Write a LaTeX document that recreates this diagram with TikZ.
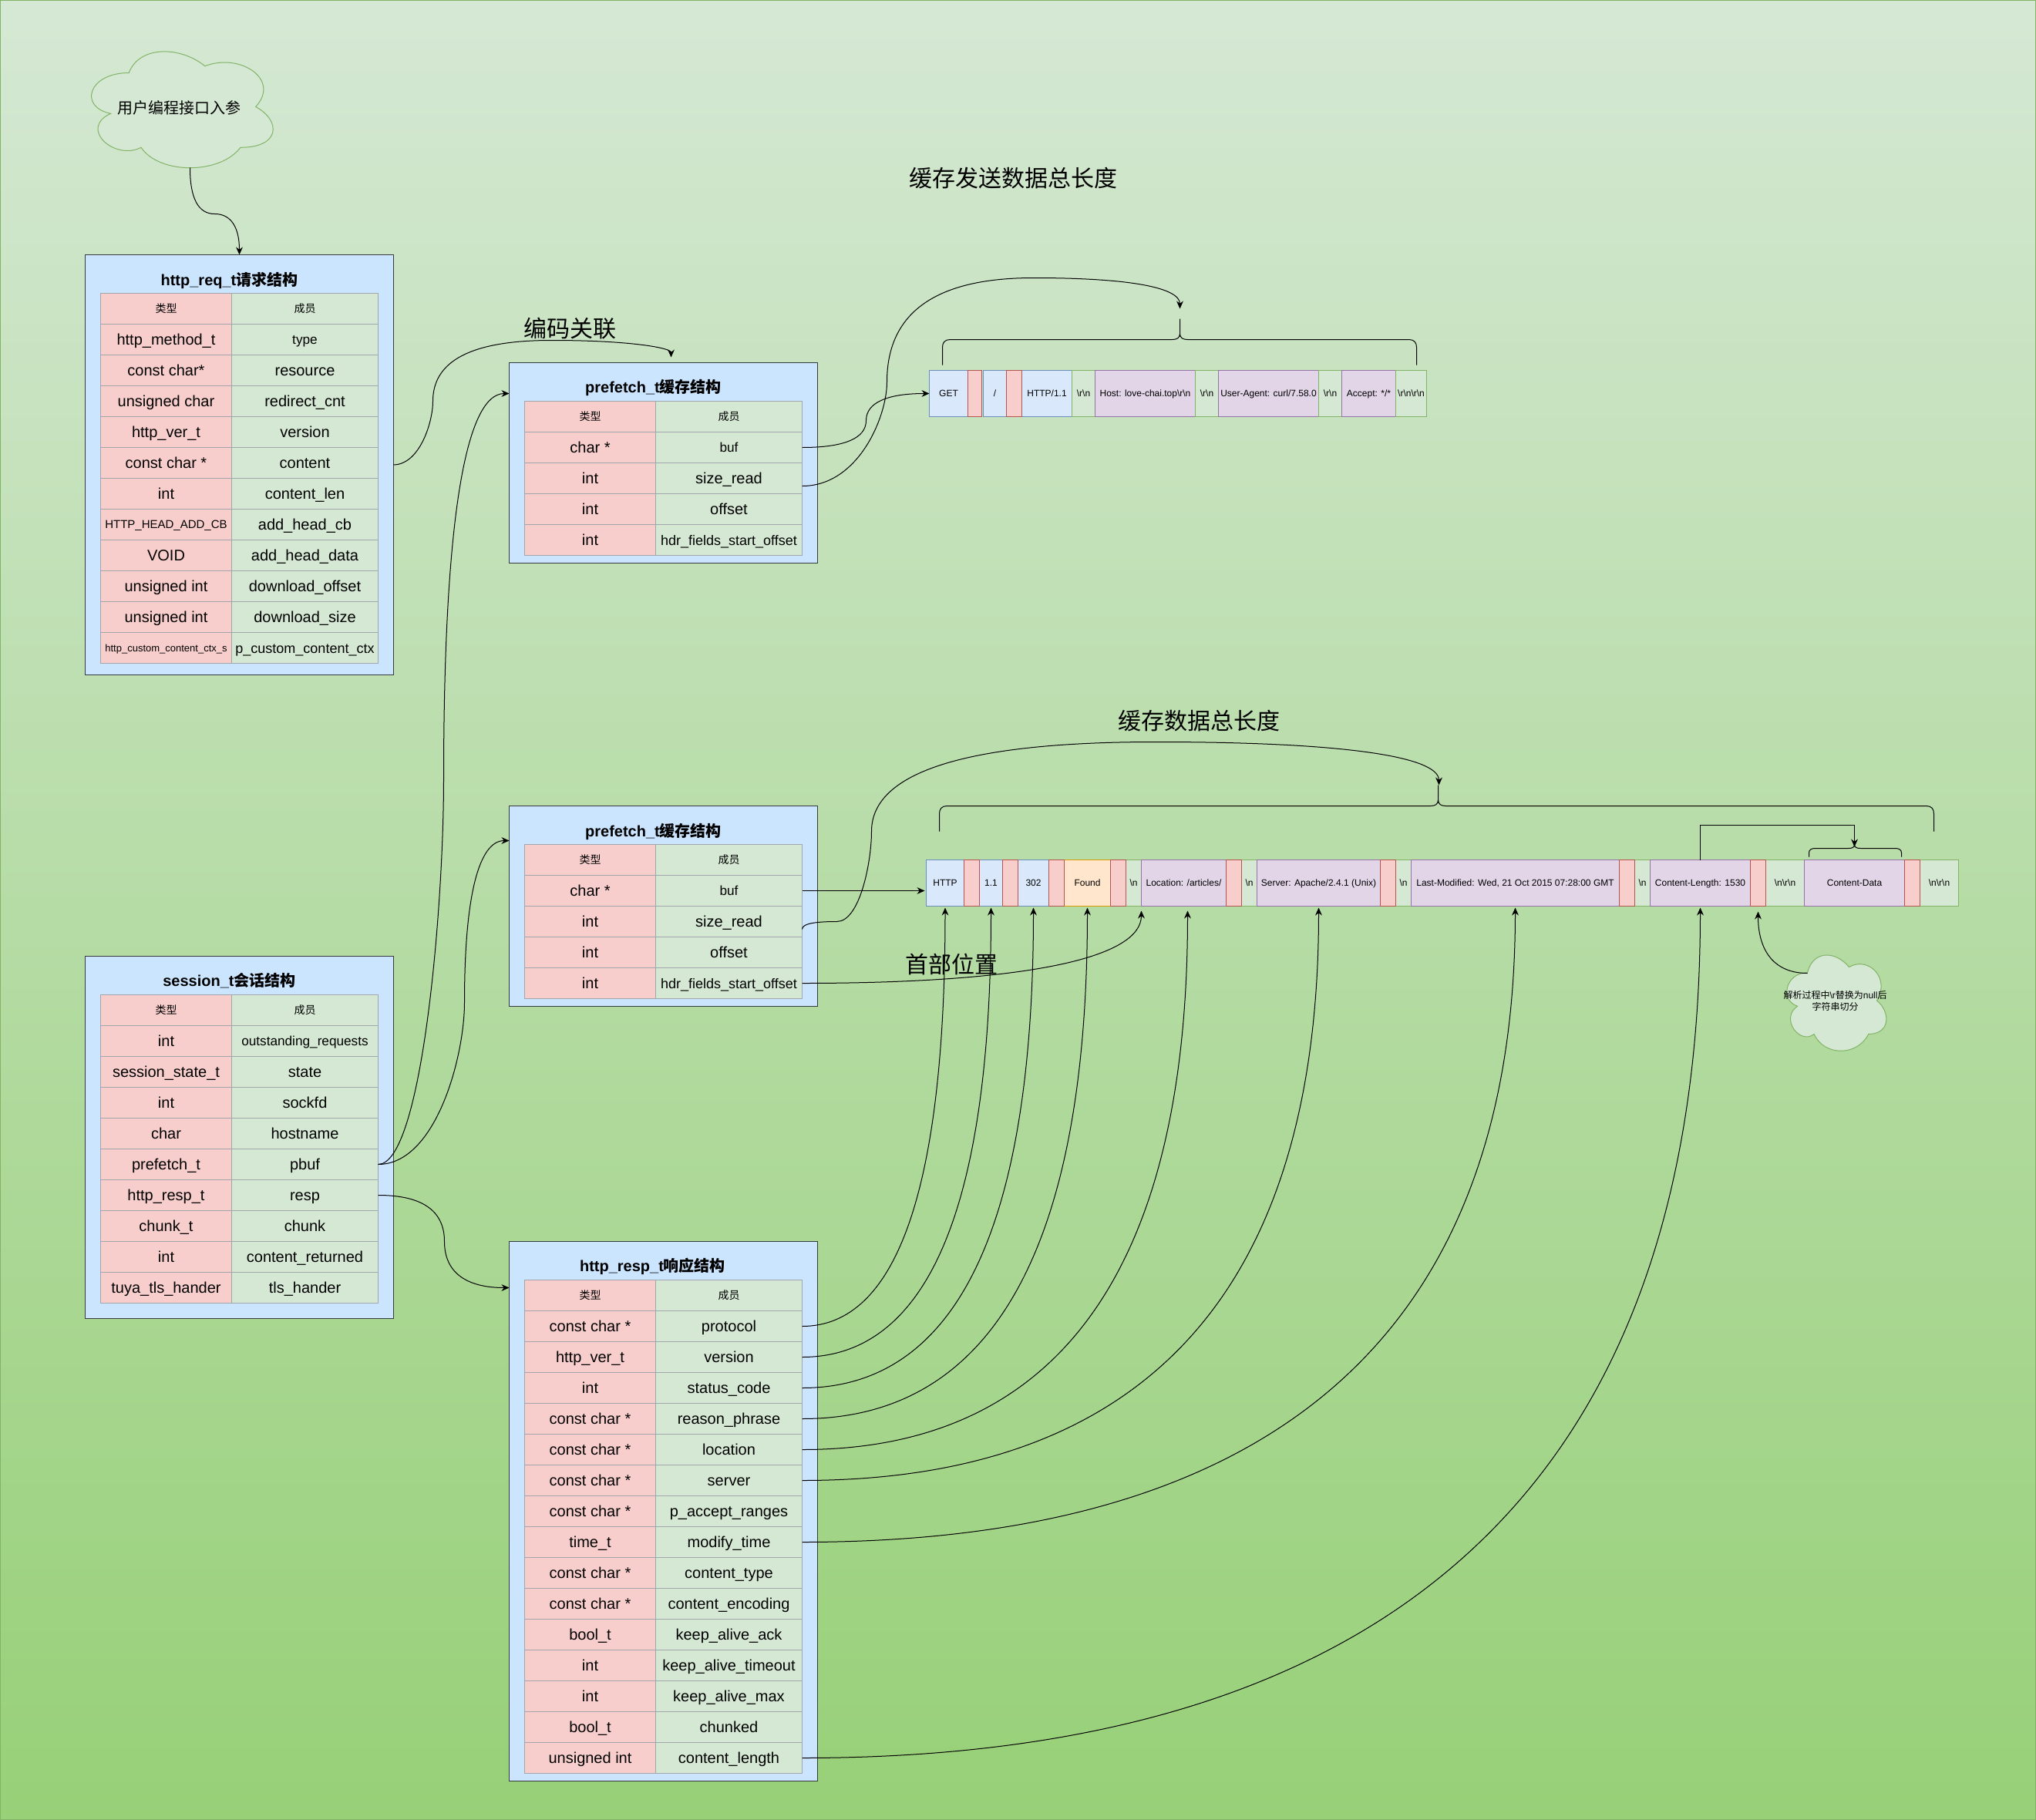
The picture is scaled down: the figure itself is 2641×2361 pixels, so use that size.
\documentclass[tikz,border=0pt]{standalone}
\usepackage{fontspec}
\setmainfont{Liberation Sans}
\newfontfamily\cjk{Noto Sans CJK SC}
\usetikzlibrary{arrows.meta, calc}
\definecolor{bgtop}{HTML}{D5E8D4}
\definecolor{bgbottom}{HTML}{97D077}
\definecolor{bgline}{HTML}{82B366}
\definecolor{panelfill}{HTML}{CCE5FF}
\definecolor{panelline}{HTML}{36393D}
\definecolor{cellline}{HTML}{A0A6AC}
\definecolor{redfill}{HTML}{F8CECC}
\definecolor{redline}{HTML}{B85450}
\definecolor{greenfill}{HTML}{D5E8D4}
\definecolor{greenline}{HTML}{82B366}
\definecolor{bluefill}{HTML}{DAE8FC}
\definecolor{blueline}{HTML}{6C8EBF}
\definecolor{purplefill}{HTML}{E1D5E7}
\definecolor{purpleline}{HTML}{9673A6}
\definecolor{orangefill}{HTML}{FFE6CC}
\definecolor{orangeline}{HTML}{D79B00}

\begin{document}
\begin{tikzpicture}[
        x=0.5pt, y=-0.5pt,
        every node/.style={inner sep=0pt, outer sep=0pt, align=center},
        panelbox/.style={
          rectangle, fill=panelfill, draw=panelline,
          line width=0.5pt, minimum width=200pt},
        paneltitle/.style={
          font=\fontsize{10}{12}\selectfont\bfseries, text height=7.6pt, text depth=0pt},
        typecell/.style={
          rectangle, fill=redfill, draw=cellline,
          line width=0.5pt, minimum width=85pt, minimum height=20pt,
          font=\fontsize{10}{12}\selectfont, text height=7.2pt, text depth=0pt},
        membercell/.style={
          rectangle, fill=greenfill, draw=cellline,
          line width=0.5pt, minimum width=95pt, minimum height=20pt,
          font=\fontsize{10}{12}\selectfont, text height=7.2pt, text depth=0pt},
        headtext/.style={
          font=\fontsize{7}{8}\selectfont\cjk, text height=5.3pt},
        ninetext/.style={font=\fontsize{9}{11}\selectfont, text height=6.5pt},
        eighttext/.style={font=\fontsize{8.6}{10}\selectfont, text height=6.2pt},
        sevenhalf/.style={font=\fontsize{7.5}{9}\selectfont, text height=5.4pt},
        sixhalf/.style={font=\fontsize{6.5}{8}\selectfont, text height=4.7pt},
        stripcell/.style={
          rectangle, line width=0.5pt, minimum height=30pt,
          font=\fontsize{6}{7}\selectfont, text height=4.4pt, text depth=0pt},
        stripblue/.style={stripcell, fill=bluefill, draw=blueline},
        stripred/.style={stripcell, fill=redfill, draw=redline},
        stripgreen/.style={stripcell, fill=greenfill, draw=greenline},
        strippurple/.style={stripcell, fill=purplefill, draw=purpleline},
        striporange/.style={stripcell, fill=orangefill, draw=orangeline},
        bigcaption/.style={font=\fontsize{15}{18}\selectfont\cjk, text height=11.4pt, text depth=0pt},
        cloudshape/.style={fill=greenfill, draw=greenline, line width=0.5pt},
        bracket/.style={draw=black, line width=0.5pt},
        flow/.style={draw=black, line width=0.5pt, -{Stealth[length=5pt,width=4.4pt]}}
      ]
        \useasboundingbox (-0.5,-0.5) rectangle (2640.5,2360.5);
        \shade[top color=bgtop, bottom color=bgbottom, draw=bgline, line width=0.7pt]
          (0,0) rectangle (2640,2360);

        \begin{scope}[shift={(101,50)}, x=131.5pt, y=-88pt]
          \path[cloudshape] (0.25,0.25) .. controls (0.05,0.25) and (0,0.5) .. (0.16,0.55)
            .. controls (0,0.66) and (0.18,0.9) .. (0.31,0.8)
            .. controls (0.4,1) and (0.7,1) .. (0.8,0.8)
            .. controls (1,0.8) and (1,0.6) .. (0.875,0.5)
            .. controls (1,0.3) and (0.8,0.1) .. (0.625,0.2)
            .. controls (0.5,0.05) and (0.3,0.05) .. (0.25,0.25) -- cycle;
        \end{scope}
        \begin{scope}[shift={(2308,1225)}, x=72pt, y=-72.5pt]
          \path[cloudshape] (0.25,0.25) .. controls (0.05,0.25) and (0,0.5) .. (0.16,0.55)
            .. controls (0,0.66) and (0.18,0.9) .. (0.31,0.8)
            .. controls (0.4,1) and (0.7,1) .. (0.8,0.8)
            .. controls (1,0.8) and (1,0.6) .. (0.875,0.5)
            .. controls (1,0.3) and (0.8,0.1) .. (0.625,0.2)
            .. controls (0.5,0.05) and (0.3,0.05) .. (0.25,0.25) -- cycle;
        \end{scope}
        \node[font=\fontsize{10}{12}\selectfont\cjk] (usercloud) at (232,139) {用户编程接口入参};
        \node[font=\fontsize{6}{7.5}\selectfont] (splitcloud) at (2380,1298)
          {{\cjk 解析过程中}\textbackslash r{\cjk 替换为}null{\cjk 后}\\{\cjk 字符串切分}};
        \coordinate (usercloudout) at (246,217);
        \coordinate (splitcloudout) at (2344,1262);

        \node[panelbox, minimum height=272.5pt] (reqpanel) at (310,602.5) {};
        \node[paneltitle] (reqtitle) at (297,362) {http\_req\_t{\cjk 请求结构}};
        \node[typecell, headtext] (req0t) at (215,400) {类型};
        \node[membercell, headtext] (req0m) at (395,400) {成员};
        \node[typecell] (req1t) at (215,440) {http\_method\_t};
        \node[membercell, eighttext] (req1m) at (395,440) {type};
        \node[typecell] (req2t) at (215,480) {const char*};
        \node[membercell] (req2m) at (395,480) {resource};
        \node[typecell] (req3t) at (215,520) {unsigned char};
        \node[membercell] (req3m) at (395,520) {redirect\_cnt};
        \node[typecell] (req4t) at (215,560) {http\_ver\_t};
        \node[membercell] (req4m) at (395,560) {version};
        \node[typecell] (req5t) at (215,600) {const char *};
        \node[membercell] (req5m) at (395,600) {content};
        \node[typecell] (req6t) at (215,640) {int};
        \node[membercell] (req6m) at (395,640) {content\_len};
        \node[typecell, sevenhalf] (req7t) at (215,680) {HTTP\_HEAD\_ADD\_CB};
        \node[membercell] (req7m) at (395,680) {add\_head\_cb};
        \node[typecell] (req8t) at (215,720) {VOID};
        \node[membercell] (req8m) at (395,720) {add\_head\_data};
        \node[typecell] (req9t) at (215,760) {unsigned int};
        \node[membercell] (req9m) at (395,760) {download\_offset};
        \node[typecell] (req10t) at (215,800) {unsigned int};
        \node[membercell] (req10m) at (395,800) {download\_size};
        \node[typecell, sixhalf] (req11t) at (215,840) {http\_custom\_content\_ctx\_s};
        \node[membercell, ninetext] (req11m) at (395,840) {p\_custom\_content\_ctx};

        \node[panelbox, minimum height=130pt] (pre1panel) at (860,600) {};
        \node[paneltitle] (pre1title) at (847,501) {prefetch\_t{\cjk 缓存结构}};
        \node[typecell, headtext] (pre10t) at (765,540) {类型};
        \node[membercell, headtext] (pre10m) at (945,540) {成员};
        \node[typecell] (pre1buft) at (765,580) {char *};
        \node[membercell, eighttext] (pre1buf) at (945,580) {buf};
        \node[typecell] (pre1sizet) at (765,620) {int};
        \node[membercell] (pre1size) at (945,620) {size\_read};
        \node[typecell] (pre1offt) at (765,660) {int};
        \node[membercell] (pre1off) at (945,660) {offset};
        \node[typecell] (pre1hdrt) at (765,700) {int};
        \node[membercell, ninetext] (pre1hdr) at (945,700) {hdr\_fields\_start\_offset};

        \node[panelbox, minimum height=130pt] (pre2panel) at (860,1175) {};
        \node[paneltitle] (pre2title) at (847,1077) {prefetch\_t{\cjk 缓存结构}};
        \node[typecell, headtext] (pre20t) at (765,1115) {类型};
        \node[membercell, headtext] (pre20m) at (945,1115) {成员};
        \node[typecell] (pre2buft) at (765,1155) {char *};
        \node[membercell, eighttext] (pre2buf) at (945,1155) {buf};
        \node[typecell] (pre2sizet) at (765,1195) {int};
        \node[membercell] (pre2size) at (945,1195) {size\_read};
        \node[typecell] (pre2offt) at (765,1235) {int};
        \node[membercell] (pre2off) at (945,1235) {offset};
        \node[typecell] (pre2hdrt) at (765,1275) {int};
        \node[membercell, ninetext] (pre2hdr) at (945,1275) {hdr\_fields\_start\_offset};

        \node[panelbox, minimum height=235pt] (sesspanel) at (310,1475) {};
        \node[paneltitle] (sesstitle) at (297,1271) {session\_t{\cjk 会话结构}};
        \node[typecell, headtext] (sess0t) at (215,1310) {类型};
        \node[membercell, headtext] (sess0m) at (395,1310) {成员};
        \node[typecell] (sess1t) at (215,1350) {int};
        \node[membercell, eighttext] (sess1m) at (395,1350) {outstanding\_requests};
        \node[typecell] (sess2t) at (215,1390) {session\_state\_t};
        \node[membercell] (sess2m) at (395,1390) {state};
        \node[typecell] (sess3t) at (215,1430) {int};
        \node[membercell] (sess3m) at (395,1430) {sockfd};
        \node[typecell] (sess4t) at (215,1470) {char};
        \node[membercell] (sess4m) at (395,1470) {hostname};
        \node[typecell] (sess5t) at (215,1510) {prefetch\_t};
        \node[membercell] (sess5m) at (395,1510) {pbuf};
        \node[typecell] (sess6t) at (215,1550) {http\_resp\_t};
        \node[membercell] (sess6m) at (395,1550) {resp};
        \node[typecell] (sess7t) at (215,1590) {chunk\_t};
        \node[membercell] (sess7m) at (395,1590) {chunk};
        \node[typecell] (sess8t) at (215,1630) {int};
        \node[membercell] (sess8m) at (395,1630) {content\_returned};
        \node[typecell] (sess9t) at (215,1670) {tuya\_tls\_hander};
        \node[membercell] (sess9m) at (395,1670) {tls\_hander};

        \node[panelbox, minimum height=350pt] (resppanel) at (860,1960) {};
        \node[paneltitle] (resptitle) at (846,1641) {http\_resp\_t{\cjk 响应结构}};
        \node[typecell, headtext] (resp0t) at (765,1680) {类型};
        \node[membercell, headtext] (resp0m) at (945,1680) {成员};
        \node[typecell] (resp1t) at (765,1720) {const char *};
        \node[membercell] (resp1m) at (945,1720) {protocol};
        \node[typecell] (resp2t) at (765,1760) {http\_ver\_t};
        \node[membercell] (resp2m) at (945,1760) {version};
        \node[typecell] (resp3t) at (765,1800) {int};
        \node[membercell] (resp3m) at (945,1800) {status\_code};
        \node[typecell] (resp4t) at (765,1840) {const char *};
        \node[membercell] (resp4m) at (945,1840) {reason\_phrase};
        \node[typecell] (resp5t) at (765,1880) {const char *};
        \node[membercell] (resp5m) at (945,1880) {location};
        \node[typecell] (resp6t) at (765,1920) {const char *};
        \node[membercell] (resp6m) at (945,1920) {server};
        \node[typecell] (resp7t) at (765,1960) {const char *};
        \node[membercell] (resp7m) at (945,1960) {p\_accept\_ranges};
        \node[typecell] (resp8t) at (765,2000) {time\_t};
        \node[membercell] (resp8m) at (945,2000) {modify\_time};
        \node[typecell] (resp9t) at (765,2040) {const char *};
        \node[membercell] (resp9m) at (945,2040) {content\_type};
        \node[typecell] (resp10t) at (765,2080) {const char *};
        \node[membercell] (resp10m) at (945,2080) {content\_encoding};
        \node[typecell] (resp11t) at (765,2120) {bool\_t};
        \node[membercell] (resp11m) at (945,2120) {keep\_alive\_ack};
        \node[typecell] (resp12t) at (765,2160) {int};
        \node[membercell] (resp12m) at (945,2160) {keep\_alive\_timeout};
        \node[typecell] (resp13t) at (765,2200) {int};
        \node[membercell] (resp13m) at (945,2200) {keep\_alive\_max};
        \node[typecell] (resp14t) at (765,2240) {bool\_t};
        \node[membercell] (resp14m) at (945,2240) {chunked};
        \node[typecell] (resp15t) at (765,2280) {unsigned int};
        \node[membercell] (resp15m) at (945,2280) {content\_length};

        \node[stripblue, minimum width=25pt] (sget) at (1230,510) {GET};
        \node[stripblue, minimum width=15pt] (spath) at (1290,510) {/};
        \node[stripblue, minimum width=32.5pt] (sver) at (1357.5,510) {HTTP/1.1};
        \node[stripgreen, minimum width=15pt] (scr1) at (1405,510) {\textbackslash r\textbackslash n};
        \node[strippurple, minimum width=65pt] (shost) at (1485,510) {Host: love-chai.top\textbackslash r\textbackslash n};
        \node[stripgreen, minimum width=15pt] (scr2) at (1565,510) {\textbackslash r\textbackslash n};
        \node[strippurple, minimum width=65pt] (sagent) at (1645,510) {User-Agent: curl/7.58.0};
        \node[stripgreen, minimum width=15pt] (scr3) at (1725,510) {\textbackslash r\textbackslash n};
        \node[strippurple, minimum width=35pt] (saccept) at (1775,510) {Accept: */*};
        \node[stripgreen, minimum width=20pt] (scr4) at (1830,510) {\textbackslash r\textbackslash n\textbackslash r\textbackslash n};
        \node[stripred, minimum width=9pt] (ssp1) at (1264,510) {};
        \node[stripred, minimum width=10pt] (ssp2) at (1315,510) {};

        \node[stripblue, minimum width=24.5pt] (rhttp) at (1225.5,1145) {HTTP};
        \node[stripblue, minimum width=15pt] (rver) at (1285,1145) {1.1};
        \node[stripblue, minimum width=20pt] (rcode) at (1340,1145) {302};
        \node[striporange, minimum width=30pt] (rfound) at (1410,1145) {Found};
        \node[stripgreen, minimum width=10pt] (rnl1) at (1470,1145) {\textbackslash n};
        \node[strippurple, minimum width=55pt] (rlocation) at (1535,1145) {Location: /articles/};
        \node[stripgreen, minimum width=10pt] (rnl2) at (1620,1145) {\textbackslash n};
        \node[strippurple, minimum width=80pt] (rserver) at (1710,1145) {Server: Apache/2.4.1 (Unix)};
        \node[stripgreen, minimum width=10pt] (rnl3) at (1820,1145) {\textbackslash n};
        \node[strippurple, minimum width=135pt] (rmodified) at (1965,1145) {Last-Modified: Wed, 21 Oct 2015 07:28:00 GMT};
        \node[stripgreen, minimum width=10pt] (rnl4) at (2130,1145) {\textbackslash n};
        \node[strippurple, minimum width=65pt] (rclen) at (2205,1145) {Content-Length: 1530};
        \node[stripgreen, minimum width=25pt] (rnl5) at (2315,1145) {\textbackslash n\textbackslash r\textbackslash n};
        \node[strippurple, minimum width=65pt] (rdata) at (2405,1145) {Content-Data};
        \node[stripgreen, minimum width=25pt] (rnl6) at (2515,1145) {\textbackslash n\textbackslash r\textbackslash n};
        \node[stripred, minimum width=10pt] (rsp1) at (1260,1145) {};
        \node[stripred, minimum width=10pt] (rsp2) at (1310,1145) {};
        \node[stripred, minimum width=10pt] (rsp3) at (1370,1145) {};
        \node[stripred, minimum width=10pt] (rsp4) at (1450,1145) {};
        \node[stripred, minimum width=10pt] (rsp5) at (1600,1145) {};
        \node[stripred, minimum width=10pt] (rsp6) at (1800,1145) {};
        \node[stripred, minimum width=10pt] (rsp7) at (2110,1145) {};
        \node[stripred, minimum width=10pt] (rsp8) at (2280,1145) {};
        \node[stripred, minimum width=10pt] (rsp9) at (2480,1145) {};

        \node[bigcaption] (sendlabel) at (1314,231) {缓存发送数据总长度};
        \node[bigcaption] (encodelabel) at (739,426) {编码关联};
        \node[bigcaption] (recvlabel) at (1555,935) {缓存数据总长度};
        \node[bigcaption] (headlabel) at (1234,1251) {首部位置};

        \draw[bracket] (1222,473) -- (1222,450) .. controls (1222,444) and (1225,440) .. (1232,440)
          -- (1520,440) .. controls (1526,440) and (1530,438) .. (1530,432) -- (1530,413)
          -- (1530,432) .. controls (1530,438) and (1534,440) .. (1540,440)
          -- (1827,440) .. controls (1834,440) and (1837,444) .. (1837,450) -- (1837,473);
        \draw[bracket] (1218,1078) -- (1218,1055) .. controls (1218,1049) and (1221,1045) .. (1228,1045)
          -- (1855,1045) .. controls (1861,1045) and (1865,1043) .. (1865,1037) -- (1865,1018)
          -- (1865,1037) .. controls (1865,1043) and (1869,1045) .. (1875,1045)
          -- (2498,1045) .. controls (2505,1045) and (2508,1049) .. (2508,1055) -- (2508,1078);
        \draw[bracket] (2346,1111) -- (2346,1106) .. controls (2346,1102) and (2349,1100) .. (2354,1100)
          -- (2397,1100) .. controls (2402,1100) and (2405,1099) .. (2405,1095)
          .. controls (2405,1099) and (2408,1100) .. (2413,1100)
          -- (2458,1100) .. controls (2463,1100) and (2466,1102) .. (2466,1106) -- (2466,1111);

        \coordinate (sendtip) at (1530,400);
        \coordinate (recvtip) at (1866,1018);
        \coordinate (datatip) at (2405,1098);

        \draw[flow] (usercloudout) .. controls (246,257) and (256.7,277) .. (278,277)
          .. controls (299.3,277) and (310,294.7) .. (reqpanel.north);
        \draw[flow, shorten >=3.5pt] (reqpanel.east) .. controls (544,602) and (561,547) .. (561,520)
          .. controls (561,467) and (612,441) .. (715,441)
          .. controls (818,441) and (870,451) .. ([xshift=5pt]pre1panel.north);
        \draw[flow] (sess5m.east) .. controls (547,1510) and (575,1177) .. (575,1010)
          .. controls (575,677) and (603,510) .. ([yshift=45pt]pre1panel.west);
        \draw[flow] (sess5m.east) .. controls (565,1510) and (602,1370) .. (602,1300)
          .. controls (602,1160) and (621,1090) .. ([yshift=42.5pt]pre2panel.west);
        \draw[flow] (sess6m.east) .. controls (547,1550) and (576,1570) .. (576,1610)
          .. controls (576,1650) and (604,1670) .. ([yshift=145pt]resppanel.west);
        \draw[flow] (pre1buf.east) .. controls (1095,580) and (1123,568) .. (1123,545)
          .. controls (1123,522) and (1150,510) .. (sget.west);
        \draw[flow] ([yshift=-5pt]pre1size.east) .. controls (1113,630) and (1150,540) .. (1150,495)
          .. controls (1150,405) and (1213,360) .. (1340,360)
          .. controls (1467,360) and (1530,373) .. (sendtip);
        \draw[flow, shorten >=1pt] (pre2buf.east) -- (rhttp.west |- pre2buf.east);
        \draw[flow] ([yshift=-5pt]pre2size.east) .. controls (1040,1198) and (1055,1195) .. (1085,1195)
          .. controls (1115,1195) and (1130,1117) .. (1130,1078)
          .. controls (1130,1001) and (1253,962) .. (1498,962)
          .. controls (1743,962) and (1866,981) .. (recvtip);
        \draw[flow, shorten >=3pt] (pre2hdr.east) .. controls +(293,0) and +(0,67) .. (rlocation.south west);
        \draw[flow, shorten >=1pt] (resp1m.east) .. controls +(124,0) and +(0,363) .. (rhttp.south);
        \draw[flow, shorten >=1pt] (resp2m.east) .. controls +(163,0) and +(0,390) .. (rver.south);
        \draw[flow, shorten >=1pt] (resp3m.east) .. controls +(200,0) and +(0,417) .. (rcode.south);
        \draw[flow, shorten >=1pt] (resp4m.east) .. controls +(247,0) and +(0,443) .. (rfound.south);
        \draw[flow, shorten >=3pt] (resp5m.east) .. controls +(333,0) and +(0,470) .. ([xshift=2.5pt]rlocation.south);
        \draw[flow, shorten >=1pt] (resp6m.east) .. controls +(447,0) and +(0,497) .. (rserver.south);
        \draw[flow, shorten >=1pt] (resp8m.east) .. controls +(617,0) and +(0,550) .. (rmodified.south);
        \draw[flow, shorten >=1pt] (resp15m.east) .. controls +(777,0) and +(0,737) .. (rclen.south);
        \draw[flow] (rclen.north) -- ++(0,-45) -| (datatip);
        \draw[flow, shorten >=3.5pt] (splitcloudout) .. controls +(-43,0) and +(0,58) .. (rsp8.south);
      \end{tikzpicture}
\end{document}
